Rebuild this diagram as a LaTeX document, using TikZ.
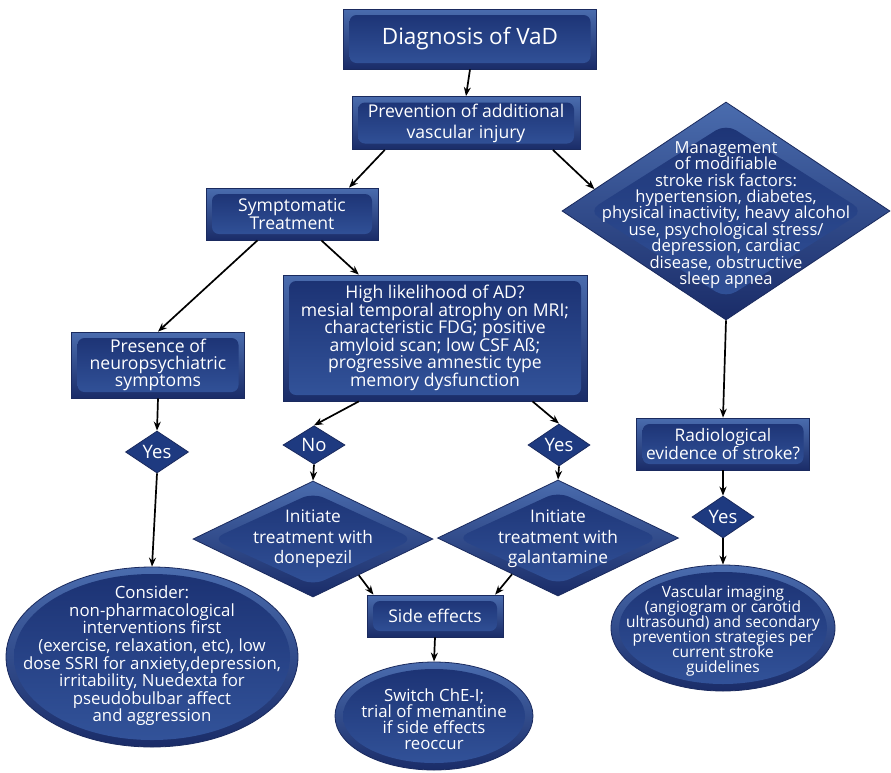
\documentclass[tikz,border=0pt]{standalone}
\usepackage{fontspec}
\setmainfont{Open Sans}
\usetikzlibrary{shapes.geometric,arrows.meta,calc}
\definecolor{outerTop}{HTML}{4A6CAE}
\definecolor{outerBot}{HTML}{1A2C68}
\definecolor{innerTop}{HTML}{1B3172}
\definecolor{innerBot}{HTML}{33549B}
\definecolor{edgecol}{HTML}{1A2A5E}
\definecolor{smallfill}{HTML}{1E3A80}
\newcommand{\fs}[2]{\fontsize{#1}{#2}\selectfont\lineskiplimit=-20pt\lineskip=0pt}
\begin{document}
\begin{tikzpicture}[x=1pt,y=-1pt,
  bx/.style={rectangle, draw=edgecol, line width=0.8pt, top color=outerTop, bottom color=outerBot,
    inner sep=0pt, text=white, align=center, font=\fs{17.6}{17.5},
    path picture={\shade[top color=innerTop, bottom color=innerBot, rounded corners=7pt]
      ([shift={(6pt,-6pt)}]path picture bounding box.north west) rectangle
      ([shift={(-6pt,6pt)}]path picture bounding box.south east);}},
  dia/.style={diamond, draw=edgecol, line width=0.8pt, top color=outerTop, bottom color=outerBot, inner sep=0pt,
    path picture={\shade[top color=innerTop, bottom color=innerBot, rounded corners=12pt]
      ($(path picture bounding box.center)!0.8!(path picture bounding box.north)$) --
      ($(path picture bounding box.center)!0.84!(path picture bounding box.east)$) --
      ($(path picture bounding box.center)!0.8!(path picture bounding box.south)$) --
      ($(path picture bounding box.center)!0.84!(path picture bounding box.west)$) -- cycle;}},
  sdia/.style={diamond, draw=edgecol, line width=0.8pt, fill=smallfill, inner sep=0pt,
    text=white, font=\fs{18.5}{18}},
  ell/.style={ellipse, draw=edgecol, line width=0.8pt, top color=outerTop, bottom color=outerBot, inner sep=0pt,
    path picture={\shade[top color=innerTop, bottom color=innerBot]
      let \p1=(path picture bounding box.north east), \p2=(path picture bounding box.center) in
      (\p2) ellipse [x radius={\x1-\x2-8pt}, y radius={\y1-\y2-7pt}];}},
  txt/.style={text=white, align=center, inner sep=0pt, font=\fs{17.6}{17}},
  ar/.style={-{Stealth[length=9pt,width=7pt]}, line width=1.7pt, black}
]
\useasboundingbox[fill=white] (0,0) rectangle (891,772);

% boxes
\node[bx, minimum width=253pt, minimum height=60pt, font=\fs{22.5}{24}] (diag) at (470,39) {Diagnosis of VaD};
\node[bx, minimum width=228pt, minimum height=53pt, font=\fs{17.6}{21}] (prev) at (466,123) {Prevention of additional\\vascular injury};
\node[bx, minimum width=172pt, minimum height=52pt, font=\fs{17.6}{18}] (symp) at (292,214) {Symptomatic\\Treatment};
\node[bx, minimum width=304pt, minimum height=126pt] (high) at (435,338) {High likelihood of AD?\\mesial temporal atrophy on MRI;\\characteristic FDG; positive\\amyloid scan; low CSF Aß;\\progressive amnestic type\\memory dysfunction};
\node[bx, minimum width=173pt, minimum height=66pt, font=\fs{17.6}{17}] (pres) at (158,365) {Presence of\\neuropsychiatric\\symptoms};
\node[bx, minimum width=173pt, minimum height=52pt, font=\fs{17.3}{18}] (rad) at (723,444) {Radiological\\evidence of stroke?};
\node[bx, minimum width=136pt, minimum height=42pt, font=\fs{17.5}{18}] (side) at (435,616) {Side effects};

% diamonds
\node[dia, minimum width=328pt, minimum height=218pt] (mgmt) at (726,211) {};
\node[txt, font=\fs{16.6}{16.4}] (mgmtT) at (726,215) {Management\\of modifiable\\stroke risk factors:\\hypertension, diabetes,\\physical inactivity, heavy alcohol\\use, psychological stress/\\depression, cardiac\\disease, obstructive\\sleep apnea};
\node[dia, minimum width=240pt, minimum height=116pt] (done) at (313,539) {};
\node[txt, font=\fs{17.3}{20.5}] (doneT) at (313,539) {Initiate\\treatment with\\donepezil};
\node[dia, minimum width=241pt, minimum height=116pt] (gal) at (558,538) {};
\node[txt, font=\fs{17.3}{20.5}] (galT) at (558,539) {Initiate\\treatment with\\galantamine};

\node[sdia, minimum width=63pt, minimum height=35pt] (yes1) at (157,452) {Yes};
\node[sdia, minimum width=62pt, minimum height=34pt] (no) at (314,445) {No};
\node[sdia, minimum width=62pt, minimum height=34pt] (yes2) at (559,445) {Yes};
\node[sdia, minimum width=62pt, minimum height=34pt] (yes3) at (723,517) {Yes};

% ellipses
\node[ell, minimum width=292pt, minimum height=180pt] (cons) at (152,657) {};
\node[txt, font=\fs{16.8}{17.6}] (consT) at (152,656) {Consider:\\non-pharmacological\\interventions first\\(exercise, relaxation, etc), low\\dose SSRI for anxiety,depression,\\irritability, Nuedexta for\\pseudobulbar affect\\and aggression};
\node[ell, minimum width=224pt, minimum height=126pt] (vasc) at (723,628) {};
\node[txt, font=\fs{15.5}{15}] (vascT) at (723,631) {Vascular imaging\\(angiogram or carotid\\ultrasound) and secondary\\prevention strategies per\\current stroke\\guidelines};
\node[ell, minimum width=198pt, minimum height=108pt] (sw) at (434,716) {};
\node[txt, font=\fs{16.8}{16.2}] (swT) at (434,719) {Switch ChE-I;\\trial of memantine\\if side effects\\reoccur};

% connectors
\draw[ar] (diag.south) -- (prev.north);
\draw[ar] ($(prev.south west)!0.145!(prev.south east)$) -- ($(symp.north west)!0.83!(symp.north east)$);
\draw[ar] ($(prev.south west)!0.88!(prev.south east)$) -- ($(mgmt.west)!0.2!(mgmt.north)$);
\draw[ar] ($(symp.south west)!0.3!(symp.south east)$) -- (pres.north);
\draw[ar] ($(symp.south west)!0.67!(symp.south east)$) -- ($(high.north west)!0.25!(high.north east)$);
\draw[ar] (pres.south) -- (yes1.north);
\draw[ar] (yes1.south) -- (cons.north);
\draw[ar] ($(high.south west)!0.25!(high.south east)$) -- (no.north);
\draw[ar] ($(high.south west)!0.82!(high.south east)$) -- (yes2.north);
\draw[ar] (no.south) -- (done.north);
\draw[ar] (yes2.south) -- (gal.north);
\draw[ar] ($(done.east)!0.62!(done.south)$) -- ($(side.north west)!0.05!(side.north east)$);
\draw[ar] ($(gal.west)!0.62!(gal.south)$) -- ($(side.north west)!0.94!(side.north east)$);
\draw[ar] (side.south) -- (sw.north);
\draw[ar] (mgmt.south) -- (rad.north);
\draw[ar] (rad.south) -- (yes3.north);
\draw[ar] (yes3.south) -- (vasc.north);
\end{tikzpicture}
\end{document}
